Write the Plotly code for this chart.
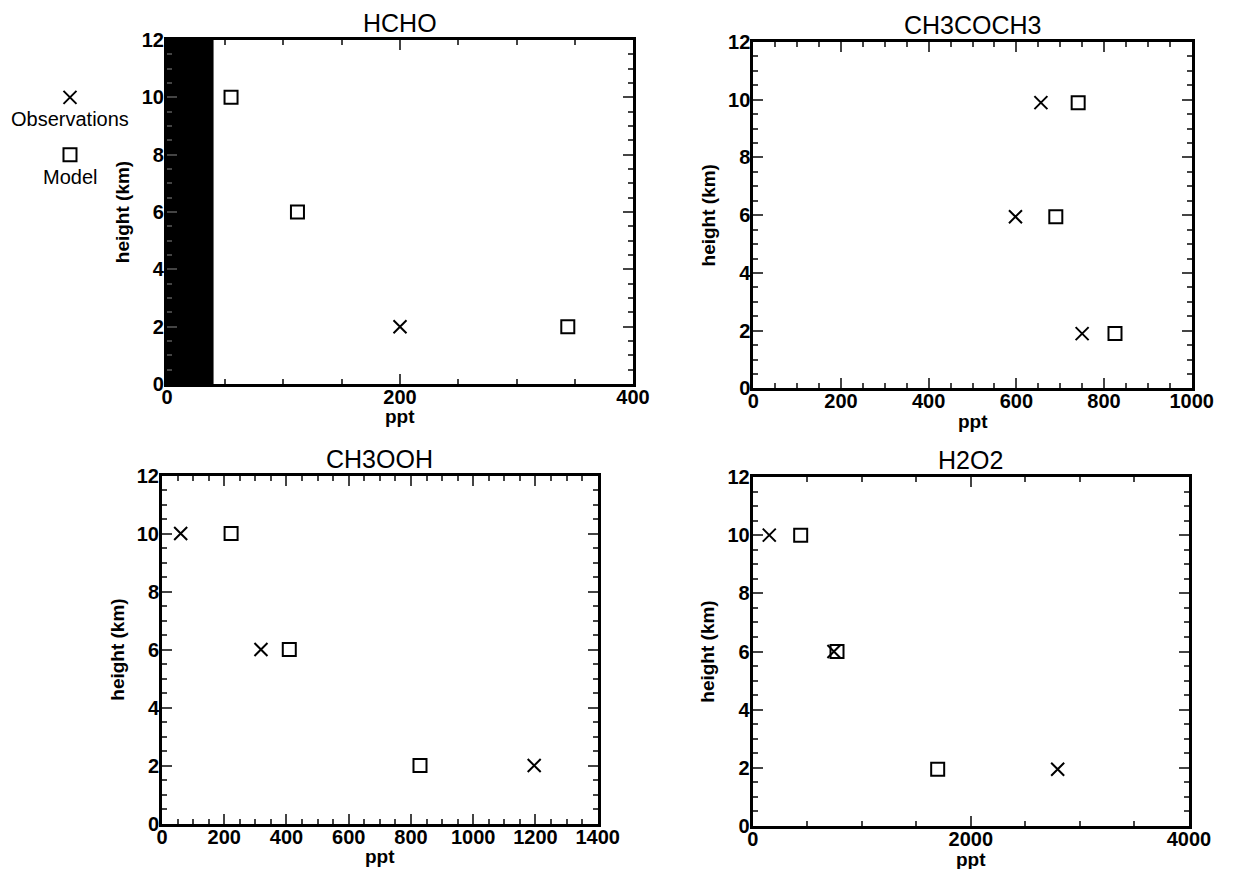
import plotly.graph_objects as go

heights = [10, 6, 2]

# HCHO
hcho_obs_x = [200]
hcho_obs_y = [2]
hcho_mod_x = [55, 112, 344]
hcho_mod_y = [10, 6, 2]
hcho_block_x = [0, 40]   # blacked-out strip in the scanned original

# CH3COCH3
ace_obs_x = [656, 598, 750]
ace_obs_y = [9.9, 5.95, 1.9]
ace_mod_x = [741, 690, 825]
ace_mod_y = [9.9, 5.95, 1.9]

# CH3OOH
mhp_obs_x = [60, 318, 1196]
mhp_mod_x = [222, 409, 829]

# H2O2
h2o2_obs_x = [152, 745, 2796]
h2o2_obs_y = [10, 6, 1.95]
h2o2_mod_x = [440, 773, 1696]
h2o2_mod_y = [10, 6, 1.95]

titles = ["HCHO", "CH3COCH3", "CH3OOH", "H2O2"]
xranges = [[0, 400], [0, 1000], [0, 1400], [0, 4000]]
xdticks = [200, 200, 200, 2000]
xminor = [50, 50, 50, 500]

# legend placement (in a helper axis left of the HCHO panel)
legend_x = [0.39, 0.39]
legend_y = [10, 8]
legend_labels = ["Observations", "Model"]

FONT = "Liberation Sans, Arial, Helvetica, sans-serif"

# figure is drawn inside the page's 8px body margin
W, H = 1236, 861
xdomains = [[0.1286, 0.5057], [0.6030, 0.9577], [0.1246, 0.4771], [0.6025, 0.9555]]
ydomains = [[0.5633, 0.9628], [0.5581, 0.9605], [0.0528, 0.4570], [0.0499, 0.4553]]

fig = go.Figure()

obs_marker = dict(symbol="x-thin-open", size=13, color="black", line=dict(color="black", width=2))
mod_marker = dict(symbol="square-open", size=13, color="black", line=dict(color="black", width=2))

series = [
    (hcho_obs_x, hcho_obs_y, hcho_mod_x, hcho_mod_y),
    (ace_obs_x, ace_obs_y, ace_mod_x, ace_mod_y),
    (mhp_obs_x, heights, mhp_mod_x, heights),
    (h2o2_obs_x, h2o2_obs_y, h2o2_mod_x, h2o2_mod_y),
]

for i, (ox, oy, mx, my) in enumerate(series):
    sfx = "" if i == 0 else str(i + 1)
    fig.add_trace(go.Scatter(x=ox, y=oy, mode="markers", marker=obs_marker,
                             xaxis="x" + sfx, yaxis="y" + sfx, showlegend=False))
    fig.add_trace(go.Scatter(x=mx, y=my, mode="markers", marker=mod_marker,
                             xaxis="x" + sfx, yaxis="y" + sfx, showlegend=False))

# legend markers in a hidden helper axis
fig.add_trace(go.Scatter(x=[legend_x[0]], y=[legend_y[0]], mode="markers", marker=obs_marker,
                         xaxis="x5", yaxis="y5", showlegend=False))
fig.add_trace(go.Scatter(x=[legend_x[1]], y=[legend_y[1]], mode="markers", marker=mod_marker,
                         xaxis="x5", yaxis="y5", showlegend=False))

layout = dict(
    width=W, height=H,
    margin=dict(l=0, r=0, t=0, b=0, autoexpand=False),
    paper_bgcolor="white", plot_bgcolor="white",
    showlegend=False,
    font=dict(family=FONT, color="black"),
)

for i in range(4):
    sfx = "" if i == 0 else str(i + 1)
    layout["xaxis" + sfx] = dict(
        domain=xdomains[i], anchor="y" + sfx, range=xranges[i], automargin=False,
        tick0=0, dtick=xdticks[i], ticks="inside", ticklen=10, tickwidth=2,
        showline=True, linewidth=3, linecolor="black", mirror="ticks",
        showgrid=False, zeroline=False, ticklabelstandoff=-7,
        tickfont=dict(size=20, family=FONT, weight="bold"),
        minor=dict(dtick=xminor[i], ticks="inside", ticklen=5, tickwidth=2, showgrid=False),
    )
    layout["yaxis" + sfx] = dict(
        domain=ydomains[i], anchor="x" + sfx, range=[0, 12], automargin=False,
        tick0=0, dtick=2, ticks="inside", ticklen=10, tickwidth=2,
        showline=True, linewidth=3, linecolor="black", mirror="ticks",
        showgrid=False, zeroline=False, ticklabelstandoff=-4,
        tickfont=dict(size=20, family=FONT, weight="bold"),
        minor=dict(dtick=0.5, ticks="inside", ticklen=5, tickwidth=2, showgrid=False),
        title=dict(text="height (km)", font=dict(size=19, family=FONT, weight="bold"), standoff=8),
    )

layout["xaxis5"] = dict(domain=[0, xdomains[0][0]], anchor="y5", range=[0, 1], visible=False,
                        fixedrange=True, automargin=False)
layout["yaxis5"] = dict(domain=ydomains[0], anchor="x5", range=[0, 12], visible=False,
                        fixedrange=True, automargin=False)

annotations = []
for i in range(4):
    xd = xdomains[i]
    yd = ydomains[i]
    annotations.append(dict(text=titles[i], xref="paper", yref="paper",
                            x=(xd[0] + xd[1]) / 2, y=yd[1], yshift=1, xanchor="center", yanchor="bottom",
                            showarrow=False, font=dict(size=25, family=FONT, color="black")))
    annotations.append(dict(text="ppt", xref="paper", yref="paper",
                            x=(xd[0] + xd[1]) / 2, y=yd[0], yshift=-33, xanchor="center", yanchor="middle",
                            showarrow=False, font=dict(size=19, family=FONT, color="black", weight="bold")))

for lx, ly, lab in zip(legend_x, legend_y, legend_labels):
    annotations.append(dict(text=lab, xref="x5", yref="y5", x=lx, y=ly, xanchor="center", yanchor="middle",
                            yshift=-22, showarrow=False,
                            font=dict(size=20, family=FONT, color="black")))
layout["annotations"] = annotations

layout["shapes"] = [dict(type="rect", xref="x", yref="y",
                         x0=hcho_block_x[0], x1=hcho_block_x[1], y0=0, y1=12,
                         fillcolor="black", line=dict(width=0), layer="below")]

fig.update_layout(**layout)
fig.write_html("out.html")
